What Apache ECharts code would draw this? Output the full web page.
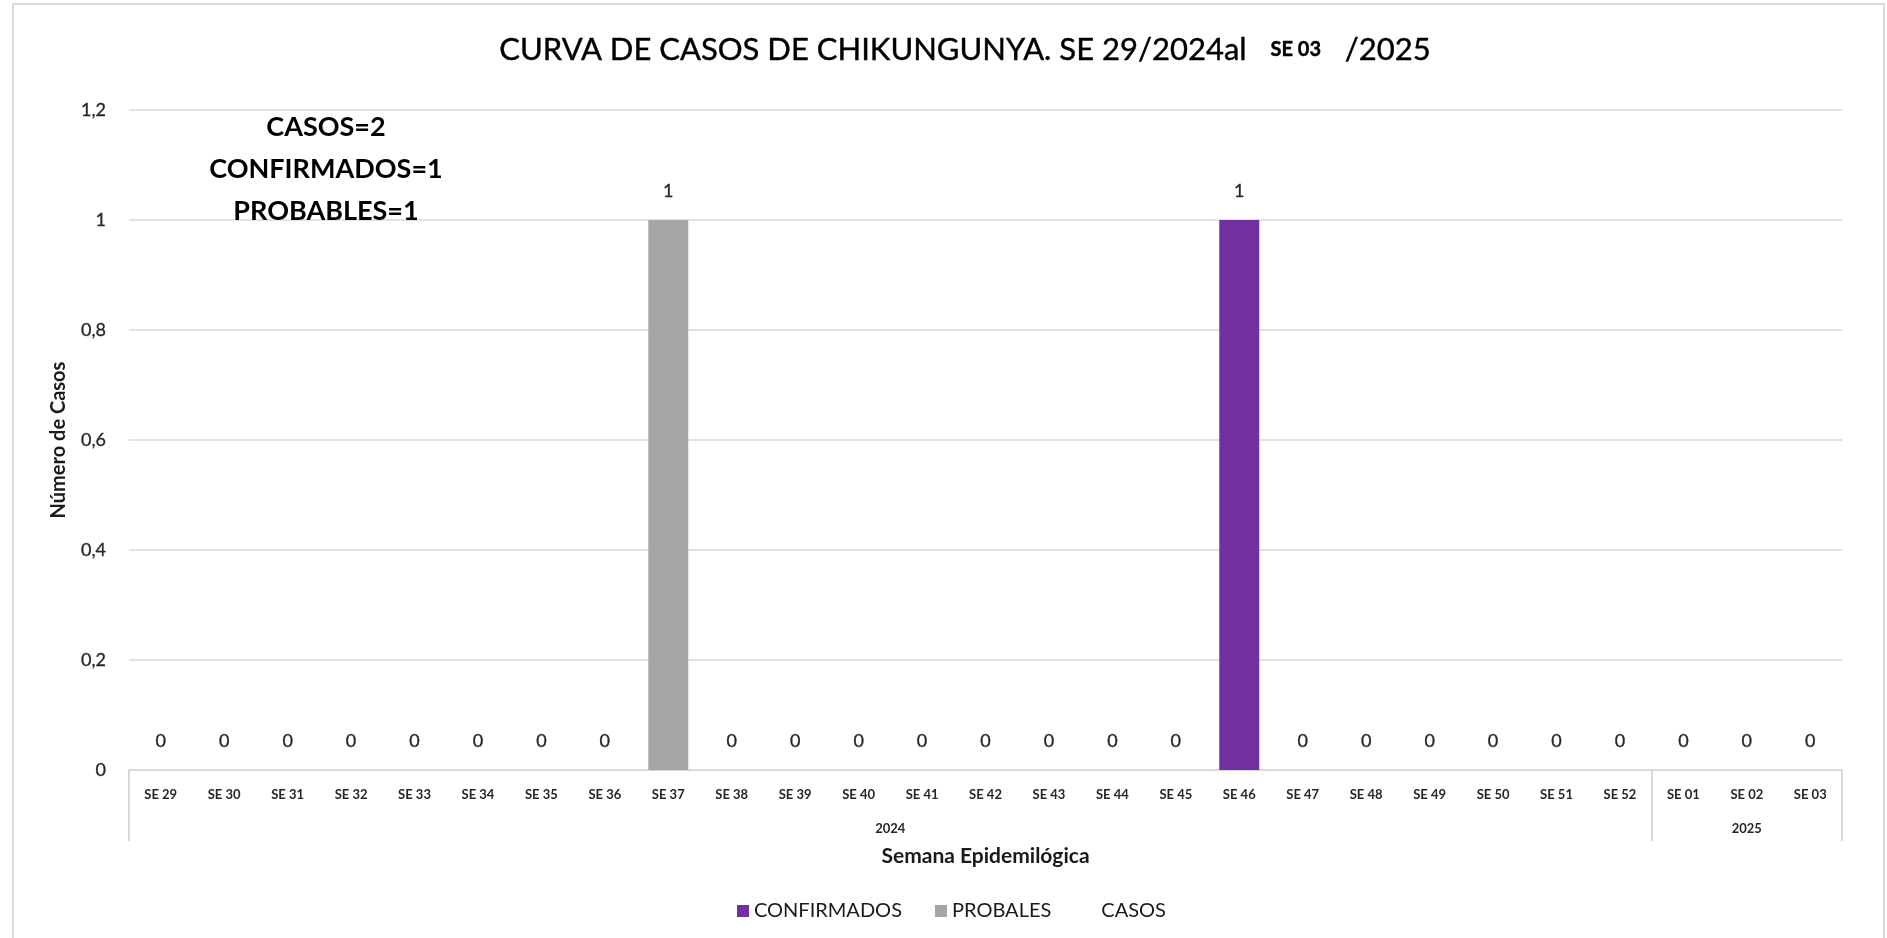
<!DOCTYPE html>
<html>
<head>
<meta charset="utf-8">
<script src="https://cdn.jsdelivr.net/npm/echarts@6/dist/echarts.min.js"></script>
<style>
html,body{margin:0;padding:0;background:#fff;}
#chart{width:1887px;height:938px;}
</style>
</head>
<body>
<div id="chart"></div>
<script>
// ---- data ----
const weeks = ['SE 29','SE 30','SE 31','SE 32','SE 33','SE 34','SE 35','SE 36','SE 37','SE 38','SE 39','SE 40','SE 41','SE 42','SE 43','SE 44','SE 45','SE 46','SE 47','SE 48','SE 49','SE 50','SE 51','SE 52','SE 01','SE 02','SE 03'];
const years = ['2024', '2025'];
const yearSpans = [24, 3];
const confirmados = [0,0,0,0,0,0,0,0,0,0,0,0,0,0,0,0,0,1,0,0,0,0,0,0,0,0,0];
const probables   = [0,0,0,0,0,0,0,0,1,0,0,0,0,0,0,0,0,0,0,0,0,0,0,0,0,0,0];
const casos       = [0,0,0,0,0,0,0,0,1,0,0,0,0,0,0,0,0,1,0,0,0,0,0,0,0,0,0];
const yTicks = [0, 0.2, 0.4, 0.6, 0.8, 1, 1.2];

// derived
const totalCasos = casos.reduce((a, b) => a + b, 0);
const totalConf = confirmados.reduce((a, b) => a + b, 0);
const totalProb = probables.reduce((a, b) => a + b, 0);
const yearBounds = [0];
yearSpans.forEach(s => yearBounds.push(yearBounds[yearBounds.length - 1] + s));
const yearCenters = yearSpans.map((s, i) => yearBounds[i] + s / 2);

const FONT = 'Lato';
const TXT = '#262626';
const GRID = '#D9D9D9';

const chart = echarts.init(document.getElementById('chart'), null, {renderer: 'canvas'});
chart.setOption({
  backgroundColor: '#ffffff',
  animation: false,
  title: [{
    text: 'CURVA DE CASOS DE CHIKUNGUNYA. SE 29/2024al   {s|SE 03}   /2025',
    left: 960, top: 29, textAlign: 'center',
    textStyle: {
      fontFamily: FONT, fontSize: 31, fontWeight: 'normal', color: '#000',
      textBorderColor: '#000', textBorderWidth: 0.4,
      rich: { s: {fontFamily: FONT, fontSize: 20, fontWeight: 'bold', color: '#000'} }
    }
  }, {
    text: 'CASOS=' + totalCasos + '\nCONFIRMADOS=' + totalConf + '\nPROBABLES=' + totalProb,
    left: 321, top: 101, textAlign: 'center',
    textStyle: { fontFamily: FONT, fontSize: 27, fontWeight: 'bold', color: '#000', lineHeight: 42, align: 'center' }
  }],
  legend: {
    left: 732, top: 896,
    itemWidth: 12, itemHeight: 12, itemGap: 33,
    textStyle: {fontFamily: FONT, fontSize: 20, color: '#1a1a1a'},
    data: [
      {name: 'CONFIRMADOS', icon: 'rect'},
      {name: 'PROBALES', icon: 'rect'},
      {name: 'CASOS', icon: 'rect', itemStyle: {opacity: 0}}
    ]
  },
  graphic: [{
    type: 'rect', silent: true,
    shape: {x: 13, y: 4, width: 1871, height: 980},
    style: {fill: 'none', stroke: GRID, lineWidth: 2}
  }],
  grid: {left: 129, right: 45, top: 110, bottom: 168, containLabel: false},
  xAxis: [{
    type: 'category', data: weeks, position: 'bottom',
    axisLine: {show: true, lineStyle: {color: GRID, width: 2}},
    axisTick: {show: false},
    axisLabel: {fontFamily: FONT, fontSize: 13, fontWeight: 'bold', color: TXT, margin: 18, interval: 0},
    name: 'Semana Epidemilógica', nameLocation: 'middle', nameGap: 76,
    nameTextStyle: {fontFamily: FONT, fontSize: 21, fontWeight: 'bold', color: '#1a1a1a'}
  }, {
    type: 'value', position: 'bottom', min: 0, max: weeks.length, offset: 0,
    axisLine: {show: false},
    splitLine: {show: false},
    axisTick: {show: true, customValues: yearBounds, length: 71, lineStyle: {color: GRID, width: 2}},
    axisLabel: {
      customValues: yearCenters, margin: 52,
      fontFamily: FONT, fontSize: 13, fontWeight: 'bold', color: TXT,
      formatter: v => { const i = yearCenters.indexOf(v); return i >= 0 ? years[i] : ''; }
    }
  }],
  yAxis: {
    type: 'value', min: 0, max: 1.2, interval: 0.2,
    axisLine: {show: false}, axisTick: {show: false},
    splitLine: {lineStyle: {color: GRID, width: 1.5}},
    axisLabel: {
      fontFamily: FONT, fontSize: 18, color: TXT, margin: 23,
      textBorderColor: TXT, textBorderWidth: 0.3,
      formatter: v => String(Math.round(v * 10) / 10).replace('.', ',')
    },
    name: 'Número de Casos', nameLocation: 'middle', nameGap: 60,
    nameTextStyle: {fontFamily: FONT, fontSize: 20, fontWeight: 'bold', color: '#1a1a1a'}
  },
  series: [{
    name: 'CONFIRMADOS', type: 'bar', stack: 'total', xAxisIndex: 0,
    data: confirmados, barWidth: '63%',
    itemStyle: {color: '#7030A0'}
  }, {
    name: 'PROBALES', type: 'bar', stack: 'total', xAxisIndex: 0,
    data: probables, barWidth: '63%',
    itemStyle: {color: '#A5A5A5'}
  }, {
    name: 'CASOS', type: 'line', xAxisIndex: 0,
    data: casos, symbol: 'circle', symbolSize: 1, showSymbol: true,
    lineStyle: {width: 0, opacity: 0},
    itemStyle: {color: '#ffffff', opacity: 0},
    label: {show: true, position: 'top', distance: 19, fontFamily: FONT, fontSize: 18, color: TXT,
            textBorderColor: TXT, textBorderWidth: 0.3, opacity: 1},
    z: 5
  }]
});
</script>
</body>
</html>
